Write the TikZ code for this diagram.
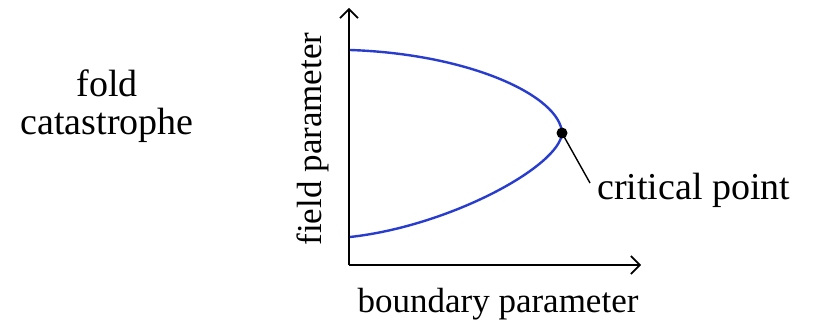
\documentclass[tikz,border=0pt]{standalone}
\usepackage{fontspec}
\setmainfont{Liberation Serif}
\usepackage{xcolor}
\usetikzlibrary{arrows.meta,positioning,calc}
\definecolor{foldblue}{RGB}{40,60,205}
\begin{document}
\begin{tikzpicture}[x=1pt, y=1pt, >={Straight Barb[length=9pt,width=18pt,line width=1.6pt]},
  big/.style={font=\fontsize{38}{40}\selectfont, inner sep=0pt},
  ax/.style={font=\fontsize{35}{40}\selectfont, inner sep=0pt},
  axis/.style={draw, line width=1.6pt, ->},
  branch/.style={draw=foldblue, line width=2.4pt}]
  \useasboundingbox (0,0) rectangle (817,326);
  % axes
  \coordinate (o) at (349,61);
  \coordinate (ytop) at (349,318);
  \coordinate (xend) at (641,61);
  \draw[axis] (o) -- (ytop);
  \draw[axis] (o) -- (xend);
  % the fold
  \coordinate (top) at (350,276);
  \coordinate (cp) at (562,193);
  \coordinate (bot) at (350,89);
  \draw[branch] (top) .. controls (470,272) and (560,230) .. (cp)
                      .. controls (560,160) and (450,100) .. (bot);
  \fill (cp) circle (5.5pt);
  % labels
  \node[big, anchor=base] (fold) at (107,229) {fold};
  \node[big, anchor=base] (cat) at (107,191) {catastrophe};
  \node[ax, rotate=90] (ylab) at (313,187) {field parameter};
  \node[ax, anchor=base] (xlab) at (498,13) {boundary parameter};
  \node[big, anchor=base west] (crit) at (597,126) {critical point};
  \coordinate (lead) at (590,143);
  \draw[line width=1.4pt] (cp) -- (lead);
\end{tikzpicture}
\end{document}
